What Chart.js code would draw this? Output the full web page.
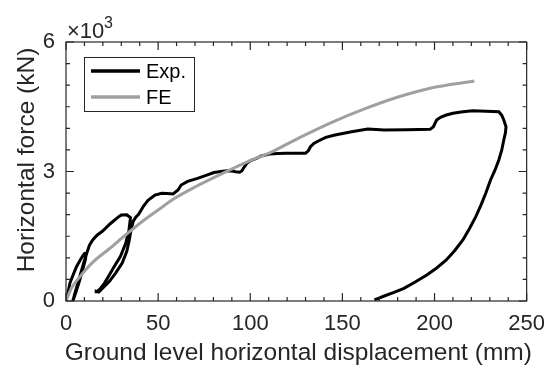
<!DOCTYPE html>
<html lang="en">
<head>
    <meta charset="UTF-8">
    <title>Horizontal force vs ground level displacement</title>
    <style>
        html, body {
            margin: 0;
            padding: 0;
            background: #ffffff;
        }
        #wrap {
            width: 555px;
            height: 365px;
            position: relative;
        }
    </style>
    <script src="https://cdn.jsdelivr.net/npm/chart.js"></script>
</head>
<body>
    <div id="wrap">
        <canvas id="forceChart"></canvas>
    </div>

    <script>
        // experimental curve (displacement mm, force kN)
        const expX = [0, 1, 2.1, 4, 5.7, 7.5, 9, 10.1, 11, 10.5, 9, 7.2, 5.5, 4.2, 3.9, 4.6, 6.5, 8.5, 10.3, 11.3,
            12.8, 14.6, 17, 19.9, 24, 28.8, 30, 33, 35,
            34.2, 32.4, 29.5, 26.1, 23.5, 20.8, 18.5, 16.8, 16.4,
            17.8, 20, 23.5, 27, 30.5, 33, 34.3, 35.3, 36.5, 38,
            39.4, 42.1, 44.5, 48.3, 51.9, 55, 58.1, 60.8, 62.5, 66, 71.4, 76, 80.3, 84, 87.4, 90, 92, 94.3, 95.5,
            96.3, 98.1, 100.5, 103.4, 106, 110.5, 115, 119.4, 125, 130, 131.5, 132.7, 134.5, 137.2, 141, 146,
            155, 163.8, 172.7, 185, 197.6, 199.4, 201.1, 203.5, 206.4, 210, 215.4, 220.7, 228, 234.9, 236.5,
            237.6, 238.8, 238.5, 237.6, 236.5, 234.9, 232.8, 230.4, 227.8, 225.2, 222.4, 219, 215.4, 211, 206.4,
            201, 195.8, 189.5, 183.4, 178, 172.7, 169.5, 167.4];
        const expY = [0, 180, 410, 620, 795, 930, 1040, 1100, 1090, 960, 720, 450, 220, 60, 20, 150, 420, 720, 980, 1110,
            1300, 1420, 1530, 1620, 1790, 1960, 1990, 1995, 1930,
            1650, 1336, 1030, 795, 600, 410, 280, 215, 225,
            205, 300, 450, 650, 880, 1150, 1400, 1650, 1850, 1950,
            2010, 2200, 2330, 2455, 2495, 2490, 2478, 2571, 2687, 2770, 2842, 2910, 2977, 3000, 3019, 3010, 2995, 2985, 3020,
            3074, 3190, 3260, 3305, 3360, 3405, 3418, 3421, 3421, 3425, 3480, 3574, 3650, 3713, 3790, 3845,
            3920, 3984, 3961, 3970, 3977, 4037, 4193, 4260, 4309, 4350, 4385, 4410, 4395, 4385, 4300,
            4193, 4037, 3900, 3730, 3500, 3266, 3030, 2803, 2495, 2220, 1953, 1680, 1413, 1170, 950,
            760, 602, 440, 294, 200, 116, 60, 23];

        // finite element curve
        const feX = [0, 3, 7.5, 14.6, 23.5, 32.3, 41.2, 50, 59, 70, 87, 100, 110, 126.5, 144.3, 162, 179.8, 197.6, 221.6];
        const feY = [0, 300, 560, 900, 1210, 1529, 1837, 2108, 2379, 2640, 2996, 3250, 3420, 3780, 4140, 4450, 4720, 4930, 5096];

        const xTicks = [0, 50, 100, 150, 200, 250];
        const yTicks = [0, 3000, 6000];
        const xMinorStep = 10;
        const yMinorStep = 500;

        const ink = '#262626';
        const fontName = '"Liberation Sans", Arial, sans-serif';

        function toPoints(xs, ys) {
            return xs.map((v, i) => ({ x: v, y: ys[i] }));
        }

        // box, inward ticks, titles, exponent and legend
        const framePlugin = {
            id: 'framePlugin',
            afterDraw(chart) {
                const ctx = chart.ctx;
                const a = chart.chartArea;
                const xs = chart.scales.x;
                const ys = chart.scales.y;
                ctx.save();
                ctx.strokeStyle = ink;
                ctx.lineWidth = 1.2;
                ctx.strokeRect(a.left, a.top, a.right - a.left, a.bottom - a.top);

                ctx.beginPath();
                for (let v = xs.min; v <= xs.max; v += xMinorStep) {
                    const px = xs.getPixelForValue(v);
                    const len = xTicks.includes(v) ? 8 : 4;
                    ctx.moveTo(px, a.bottom); ctx.lineTo(px, a.bottom - len);
                    ctx.moveTo(px, a.top); ctx.lineTo(px, a.top + len);
                }
                for (let v = ys.min; v <= ys.max; v += yMinorStep) {
                    const py = ys.getPixelForValue(v);
                    const len = yTicks.includes(v) ? 8 : 4;
                    ctx.moveTo(a.left, py); ctx.lineTo(a.left + len, py);
                    ctx.moveTo(a.right, py); ctx.lineTo(a.right - len, py);
                }
                ctx.stroke();

                ctx.fillStyle = ink;
                // x axis title
                ctx.font = '24.5px ' + fontName;
                ctx.textAlign = 'center';
                ctx.textBaseline = 'alphabetic';
                ctx.fillText('Ground level horizontal displacement (mm)', (a.left + a.right) / 2 + 2, 360);

                // y axis title
                ctx.save();
                ctx.translate(34, 160);
                ctx.rotate(-Math.PI / 2);
                ctx.fillText('Horizontal force (kN)', 0, 0);
                ctx.restore();

                // exponent
                ctx.textAlign = 'left';
                ctx.font = '22px ' + fontName;
                ctx.fillText('\u00d710', 67, 38);
                ctx.font = '16px ' + fontName;
                ctx.fillText('3', 104, 28);

                // legend
                ctx.fillStyle = '#ffffff';
                ctx.fillRect(84, 57, 110, 54);
                ctx.lineWidth = 1;
                ctx.strokeStyle = ink;
                ctx.strokeRect(84.5, 57.5, 110, 54);
                const entries = chart.data.datasets.slice().reverse();
                entries.forEach((ds, i) => {
                    const ly = 71 + i * 26;
                    ctx.strokeStyle = ds.borderColor;
                    ctx.lineWidth = ds.borderWidth + 0.5;
                    ctx.beginPath();
                    ctx.moveTo(91, ly); ctx.lineTo(140, ly);
                    ctx.stroke();
                    ctx.fillStyle = '#000000';
                    ctx.font = '20px ' + fontName;
                    ctx.textBaseline = 'middle';
                    ctx.fillText(ds.label, 146, ly + 1);
                });
                ctx.restore();
            }
        };

        new Chart(document.getElementById('forceChart'), {
            type: 'scatter',
            data: {
                datasets: [
                    {
                        label: 'FE',
                        data: toPoints(feX, feY),
                        showLine: true,
                        borderColor: '#a0a0a0',
                        borderWidth: 3,
                        pointRadius: 0,
                        cubicInterpolationMode: 'monotone'
                    },
                    {
                        label: 'Exp.',
                        data: toPoints(expX, expY),
                        showLine: true,
                        borderColor: '#000000',
                        borderWidth: 3,
                        pointRadius: 0,
                        tension: 0
                    }
                ]
            },
            options: {
                responsive: true,
                maintainAspectRatio: false,
                animation: false,
                layout: {
                    padding: { top: 42, right: 20, left: 0, bottom: 0 }
                },
                plugins: {
                    legend: { display: false },
                    tooltip: { enabled: false }
                },
                scales: {
                    x: {
                        type: 'linear',
                        min: 0,
                        max: 250,
                        afterFit: s => { s.height = 64; },
                        afterBuildTicks: s => { s.ticks = xTicks.map(v => ({ value: v })); },
                        grid: { display: false, drawTicks: false },
                        border: { display: false },
                        ticks: {
                            padding: 10,
                            color: ink,
                            maxRotation: 0,
                            font: { family: fontName, size: 22 }
                        }
                    },
                    y: {
                        type: 'linear',
                        min: 0,
                        max: 6000,
                        afterFit: s => { s.width = 66; },
                        afterBuildTicks: s => { s.ticks = yTicks.map(v => ({ value: v })); },
                        grid: { display: false, drawTicks: false },
                        border: { display: false },
                        ticks: {
                            padding: 11,
                            color: ink,
                            font: { family: fontName, size: 22 },
                            callback: v => v / 1000
                        }
                    }
                }
            },
            plugins: [framePlugin]
        });
    </script>
</body>
</html>
